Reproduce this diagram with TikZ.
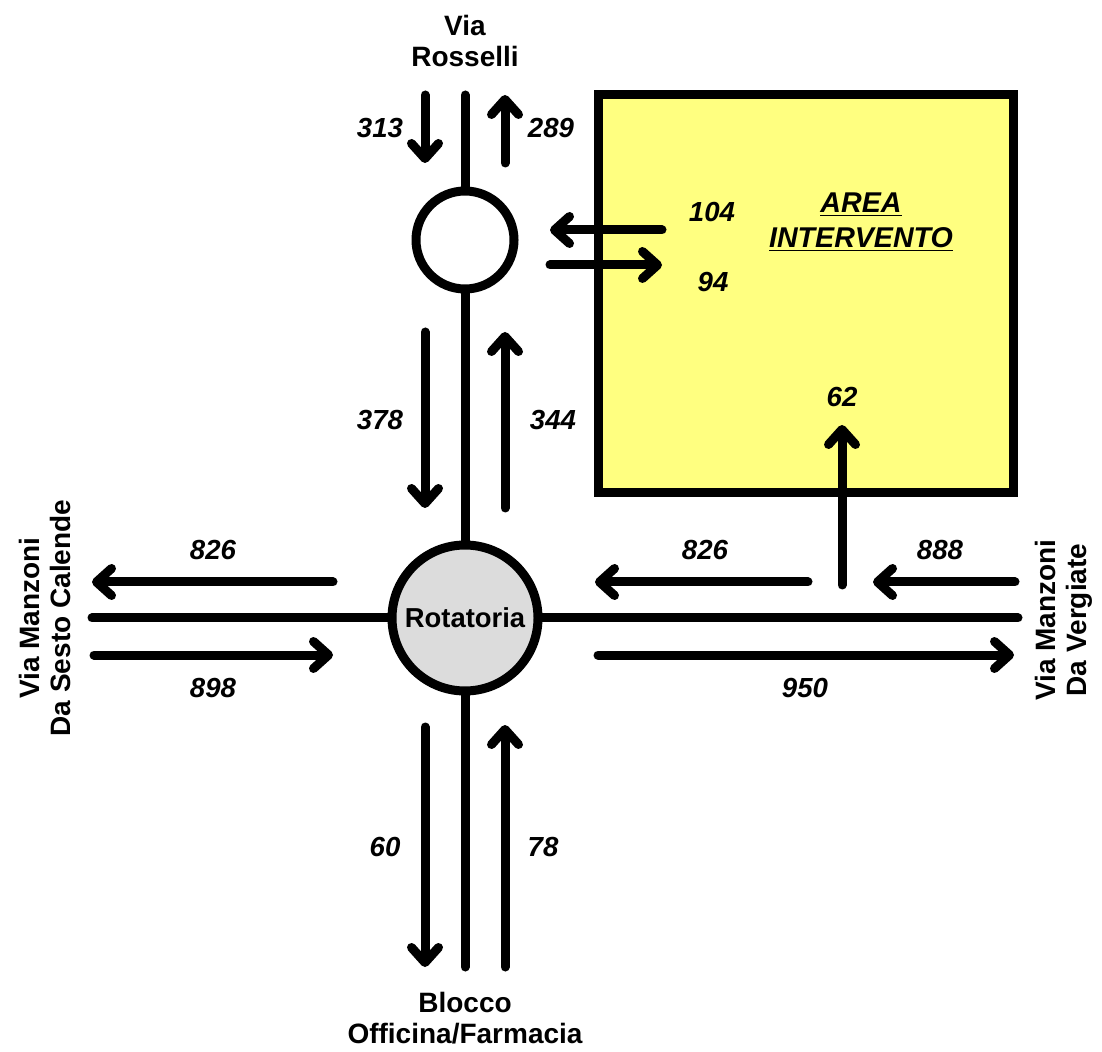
\documentclass[tikz,border=0pt]{standalone}
\usepackage{fontspec}
\setmainfont{Liberation Sans}
\usetikzlibrary{arrows.meta}
\definecolor{areayellow}{RGB}{255,255,128}
\definecolor{rotgrey}{RGB}{220,220,220}
\tikzset{
  road/.style={line width=4.5pt, line cap=round},
  flow/.style={line width=4.5pt, line cap=round, -{Straight Barb[length=7.5pt,width=13.5pt,line cap=round,line join=round]}},
  qty/.style={font=\fontsize{13.8}{16}\selectfont\bfseries\itshape},
  street/.style={font=\fontsize{14}{15.5}\selectfont\bfseries, align=center}
}
\begin{document}
\begin{tikzpicture}[x=0.5pt,y=-0.5pt]
\useasboundingbox (0,0) rectangle (1102,1052);

% area intervento
\draw[line width=4.5pt, fill=areayellow] (598,95) rectangle (1013,493);
\node[font=\fontsize{14.3}{17.5}\selectfont\bfseries\itshape, align=center] (area) at (861,222) {\underline{AREA}\\\underline{INTERVENTO}};

% roundabouts
\node[circle, draw, line width=4.5pt, fill=white, minimum size=49pt, inner sep=0pt] (mini) at (465,240) {};
\node[circle, draw, line width=4.5pt, fill=rotgrey, minimum size=73pt, inner sep=0pt, font=\fontsize{13.7}{16}\selectfont\bfseries] (rot) at (465,618) {Rotatoria};

% roads
\coordinate (north) at (465,95);
\coordinate (south) at (465,967);
\coordinate (west) at (92,618);
\coordinate (east) at (1018,618);
\draw[road] (north) -- (mini);
\draw[road] (mini) -- (rot);
\draw[road] (rot) -- (south);
\draw[road] (west) -- (rot);
\draw[road] (rot) -- (east);

% street names
\node[street] (rosselli) at (465,41) {Via\\Rosselli};
\node[street] (blocco) at (465,1018) {Blocco\\Officina/Farmacia};
\node[street, rotate=90] (sesto) at (45,618) {Via Manzoni\\Da Sesto Calende};
\node[street, rotate=90] (vergiate) at (1064,620) {Via Manzoni\\Da Vergiate};

% flows north
\draw[flow] (425,95) -- (425,163);
\node[qty] (n313) at (380,128) {313};
\draw[flow] (505,163) -- (505,95);
\node[qty] (n289) at (551,128) {289};
\draw[flow] (425,332) -- (425,508);
\node[qty] (n378) at (380,420) {378};
\draw[flow] (505,508) -- (505,332);
\node[qty] (n344) at (553,420) {344};

% flows area
\draw[flow] (662,230) -- (550,230);
\node[qty] (n104) at (712,212) {104};
\draw[flow] (550,265) -- (662,265);
\node[qty] (n94) at (713,282) {94};
\draw[flow] (842,585) -- (842,425);
\node[qty] (n62) at (842,397) {62};

% flows west
\draw[flow] (333,582) -- (92,582);
\node[qty] (n826w) at (213,550) {826};
\draw[flow] (94,655) -- (333,655);
\node[qty] (n898) at (213,688) {898};

% flows east
\draw[flow] (808,582) -- (595,582);
\node[qty] (n826e) at (705,550) {826};
\draw[flow] (1015,582) -- (873,582);
\node[qty] (n888) at (940,550) {888};
\draw[flow] (598,655) -- (1014,655);
\node[qty] (n950) at (805,688) {950};

% flows south
\draw[flow] (425,727) -- (425,967);
\node[qty] (n60) at (385,847) {60};
\draw[flow] (505,967) -- (505,725);
\node[qty] (n78) at (543,847) {78};
\end{tikzpicture}
\end{document}
